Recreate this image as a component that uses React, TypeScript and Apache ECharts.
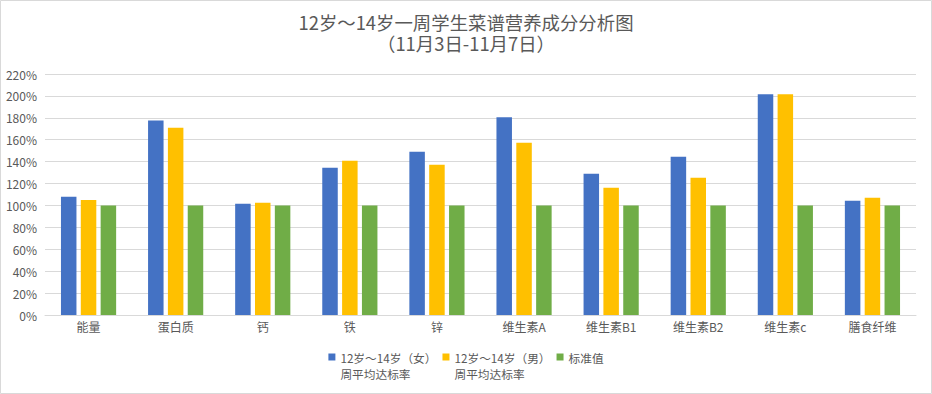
import React, { useEffect, useRef } from "react";
import * as echarts from "echarts";

const categories = ["能量", "蛋白质", "钙", "铁", "锌", "维生素A", "维生素B1", "维生素B2", "维生素c", "膳食纤维"];
const girlsRate = [108, 177.5, 101.5, 134.5, 149, 180.5, 129, 144.5, 201.5, 104.3];
const boysRate = [105, 171, 102.5, 140.8, 137.2, 157.3, 116.2, 125.4, 201.5, 107];
const standardValue = [100, 100, 100, 100, 100, 100, 100, 100, 100, 100];
const seriesNames = ["12岁～14岁（女）\n周平均达标率", "12岁～14岁（男）\n周平均达标率", "标准值"];
const titleLine1 = "12岁～14岁一周学生菜谱营养成分分析图";
const titleLine2 = "（11月3日-11月7日）";

const FONT = "'Noto Sans CJK SC', 'Microsoft YaHei', sans-serif";
const TXT = "#595959";

export default function App() {
  const ref = useRef<HTMLDivElement>(null);
  useEffect(() => {
    if (!ref.current) return;
    const chart = echarts.init(ref.current, null, { renderer: "svg" });
    const colors = ["#4472c4", "#ffc000", "#70ad47"];
    const titleStyle = { fontFamily: FONT, fontSize: 18.4, fontWeight: "normal", color: TXT, lineHeight: 20 };
    chart.setOption({
      animation: false,
      color: colors,
      textStyle: { fontFamily: FONT },
      title: [
        { text: titleLine1, left: "center", top: 12, padding: 0, textStyle: titleStyle },
        { text: titleLine2, left: "center", top: 33, padding: 0, textStyle: titleStyle },
      ],
      graphic: [
        {
          type: "rect",
          shape: { x: 0.5, y: 0.5, width: 931, height: 393 },
          style: { fill: "none", stroke: "#d9d9d9", lineWidth: 1 },
          silent: true,
        },
      ],
      legend: {
        top: 328,
        left: "center",
        icon: "rect",
        itemWidth: 7,
        itemHeight: 7,
        itemGap: 6,
        textStyle: { fontFamily: FONT, fontSize: 11.7, color: TXT, lineHeight: 16 },
        formatter: (name: string) => (name.indexOf("\n") >= 0 ? " \n" + name : name),
        data: seriesNames,
      },
      grid: { left: 45, right: 16, top: 74, bottom: 79, containLabel: false },
      xAxis: {
        type: "category",
        data: categories,
        axisLine: { lineStyle: { color: "#d9d9d9" } },
        axisTick: { show: false },
        axisLabel: { color: TXT, fontSize: 12, fontFamily: FONT, margin: 5 },
      },
      yAxis: {
        type: "value",
        min: 0,
        max: 220,
        interval: 20,
        axisLine: { show: false },
        axisTick: { show: false },
        splitLine: { lineStyle: { color: "#d9d9d9", width: 1 } },
        axisLabel: { color: TXT, fontSize: 12, fontFamily: FONT, margin: 8, formatter: "{value}%" },
      },
      series: [
        { name: seriesNames[0], type: "bar", data: girlsRate, barWidth: 15.5, barGap: "28%" },
        { name: seriesNames[1], type: "bar", data: boysRate, barWidth: 15.5, barGap: "28%" },
        { name: seriesNames[2], type: "bar", data: standardValue, barWidth: 15.5, barGap: "28%" },
      ],
    });
    return () => chart.dispose();
  }, []);
  return (
    <div style={{ position: "fixed", left: 0, top: 0, width: 932, height: 394, background: "#fff" }}>
      <div ref={ref} style={{ width: 932, height: 394 }} />
    </div>
  );
}
